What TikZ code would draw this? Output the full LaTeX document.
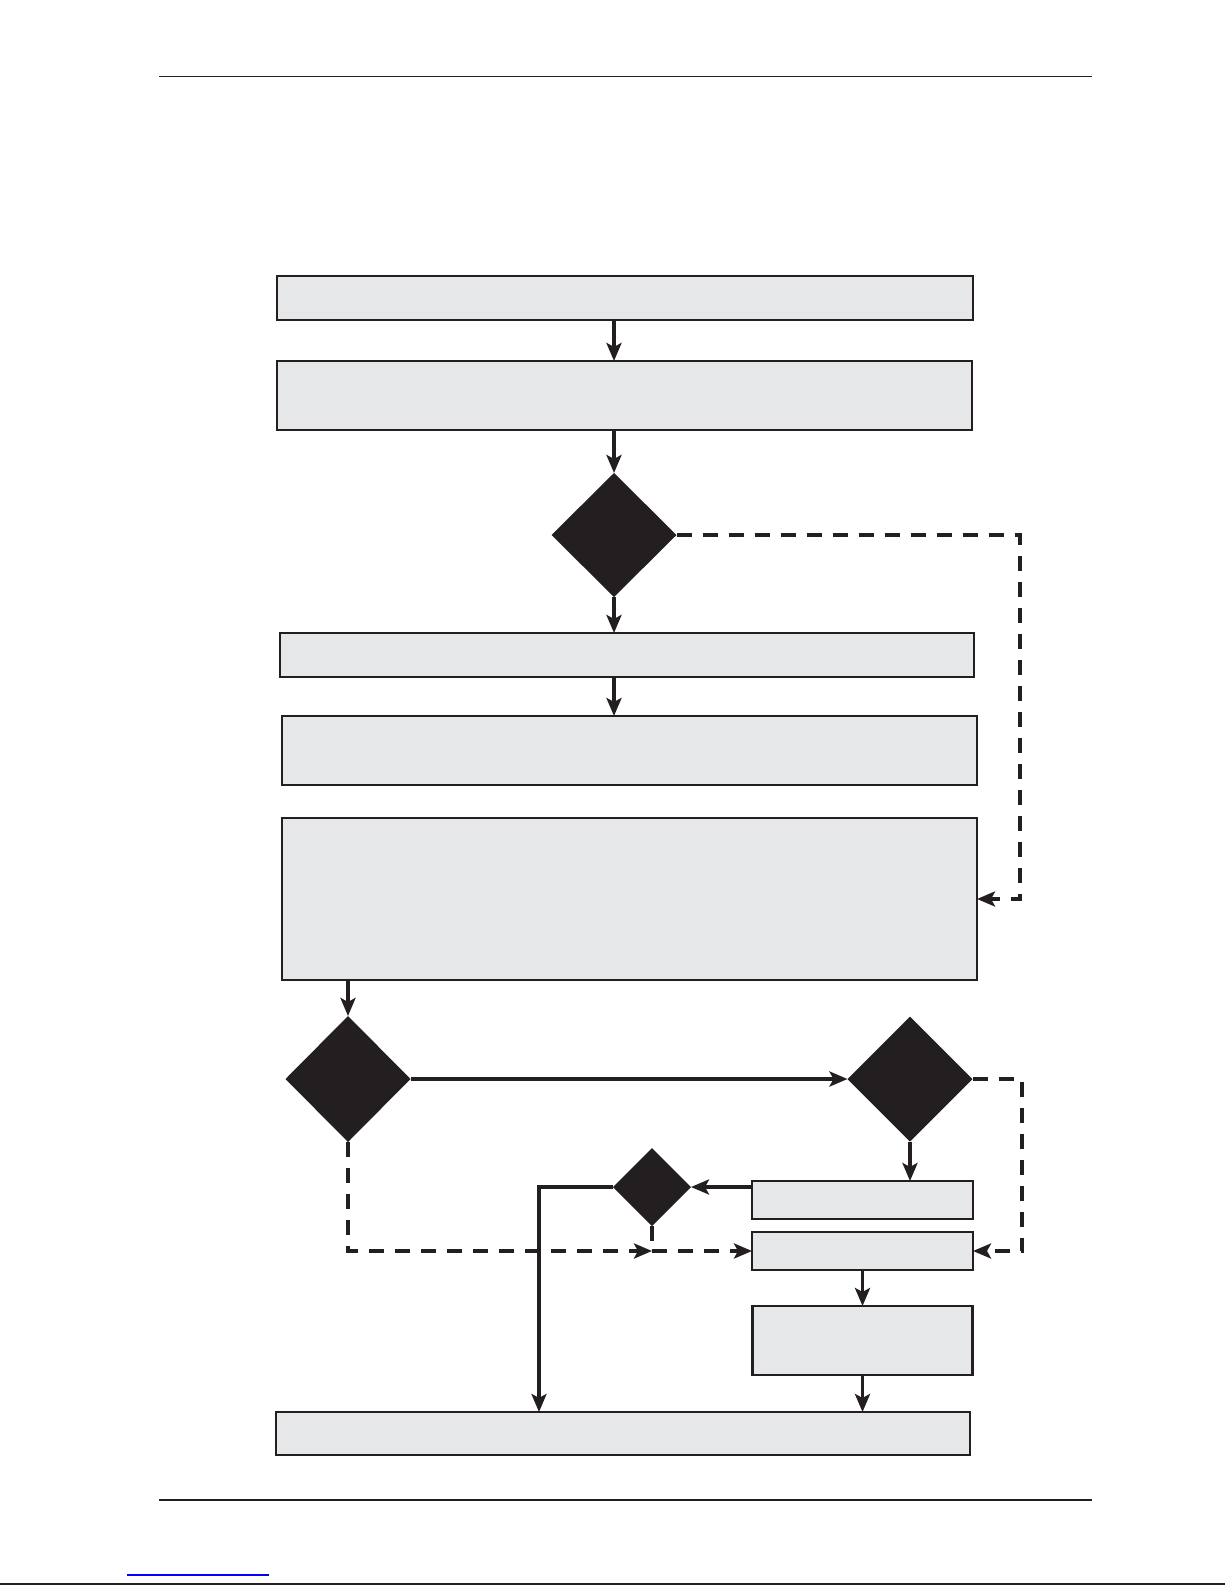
\documentclass[tikz,border=0pt]{standalone}
\usetikzlibrary{shapes.geometric,arrows.meta}
\definecolor{ink}{HTML}{231F20}
\definecolor{boxfill}{HTML}{E6E7E8}
\definecolor{linkblue}{HTML}{0000FF}
\begin{document}
\begin{tikzpicture}[x=1pt,y=-1pt,
  box/.style={draw=ink,fill=boxfill,line width=2.2pt,rectangle,inner sep=0pt,outer sep=0pt},
  dec/.style={diamond,fill=ink,draw=none,inner sep=0pt,outer sep=0pt,aspect=1},
  conn/.style={draw=ink,line width=3.8pt},
  tipped/.style={-{Stealth[length=18pt,width=15pt,inset=4pt]}},
  dsh/.style={conn,dash pattern=on 15pt off 11pt},
  rule/.style={draw=ink,line width=1.5pt}]
\useasboundingbox (0,0) rectangle (1225,1585);
\fill[white] (0,0) rectangle (1225,1585);
% page rules
\coordinate (hl) at (159,76.5);
\coordinate (hr) at (1092,76.5);
\draw[rule] (hl) -- (hr);
\coordinate (fl) at (159,1500);
\coordinate (fr) at (1092,1500);
\draw[rule] (fl) -- (fr);
\coordinate (bl1) at (127,1575);
\coordinate (bl2) at (269,1575);
\draw[draw=linkblue,line width=1.5pt] (bl1) -- (bl2);
\coordinate (el) at (0,1584);
\coordinate (er) at (1225,1584);
\draw[draw=ink,line width=2pt] (el) -- (er);
% boxes
\node[box,minimum width=696pt,minimum height=44pt] (B1) at (625,298) {};
\node[box,minimum width=695pt,minimum height=69pt] (B2) at (624.5,395.5) {};
\node[dec,minimum width=125pt,minimum height=124pt] (D1) at (614,535) {};
\node[box,minimum width=694pt,minimum height=44pt] (B3) at (627,655) {};
\node[box,minimum width=695pt,minimum height=69pt] (B4) at (629.5,750.5) {};
\node[box,minimum width=695pt,minimum height=162pt] (B5) at (629.5,899) {};
\node[dec,minimum width=125pt,minimum height=126pt] (D2) at (348,1079) {};
\node[dec,minimum width=125pt,minimum height=125pt] (D3) at (910,1079) {};
\node[box,minimum width=221pt,minimum height=38pt] (B6) at (862.5,1200) {};
\node[box,minimum width=221pt,minimum height=38pt] (B7) at (862.5,1251) {};
\node[dec,minimum width=78pt,minimum height=78pt] (D4) at (652,1187) {};
\node[box,minimum width=220pt,minimum height=69pt] (B9) at (862.5,1340.5) {};
\node[box,minimum width=694pt,minimum height=43pt] (B8) at (623,1433.5) {};
% connectors
\draw[conn,tipped] (D1 |- B1.south) -- (D1 |- B2.north);
\draw[conn,tipped] (D1 |- B2.south) -- (D1.north);
\draw[conn,tipped] (D1.south) -- (D1 |- B3.north);
\draw[conn,tipped] (D1 |- B3.south) -- (D1 |- B4.north);
\coordinate (r1a) at (1020,535);
\coordinate (r1b) at (1020,899);
\draw[dsh,tipped] (D1.east) -- (r1a) -- (r1b) -- (B5.east);
\draw[conn,tipped] (D2 |- B5.south) -- (D2.north);
\draw[conn,tipped] (D2.east) -- (D3.west);
\draw[conn,tipped] (D3.south) -- (D3 |- B6.north);
\coordinate (r2a) at (1022,1079);
\coordinate (r2b) at (1022,1251);
\draw[dsh,tipped] (D3.east) -- (r2a) -- (r2b) -- (B7.east);
\draw[conn,tipped] (B6.west |- D4.east) -- (D4.east);
\coordinate (lc) at (539,1187);
\draw[conn,tipped] (D4.west) -- (lc) -- (lc |- B8.north);
\coordinate (dj) at (652,1251);
\coordinate (dl) at (348,1251);
\draw[dsh,tipped] (D2.south) -- (dl) -- (dj);
\draw[dsh] (D4.south) -- (dj);
\draw[dsh,tipped] (dj) -- (B7.west);
\draw[conn,tipped] (B7.south) -- (B9.north);
\draw[conn,tipped] (B9.south) -- (B9.south |- B8.north);
\end{tikzpicture}
\end{document}
